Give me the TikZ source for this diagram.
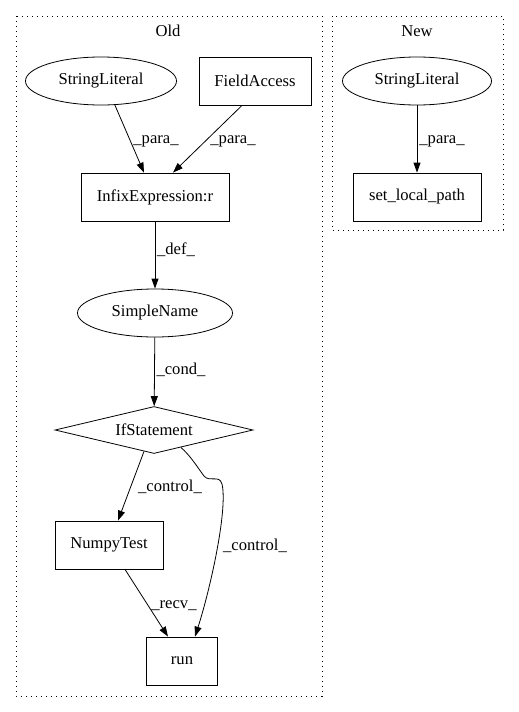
\documentclass[tikz,border=0pt]{standalone}
\usepackage{fontspec}
\setmainfont{Liberation Serif}
\usetikzlibrary{shapes.geometric,arrows.meta}
\begin{document}
\begin{tikzpicture}[x=1pt,y=-1pt,
  font=\fontsize{16.6}{19}\selectfont,
  every node/.style={inner sep=0pt},
  box/.style={draw,line width=0.8pt,rectangle},
  ell/.style={draw,line width=0.8pt,ellipse},
  cluster/.style={draw,line width=0.8pt,dash pattern=on 1.2pt off 3.8pt},
  lbl/.style={},
  arr/.style={draw,line width=0.8pt,-{Triangle[length=10pt,width=7pt]}}]
\useasboundingbox (0,0) rectangle (519,712);
% clusters
\draw[cluster] (16,16) rectangle (322,696);
\draw[cluster] (332,16) rectangle (503,230);
\node (toldt) at (168,31) {Old};
\node (tnew) at (417,31) {New};
% nodes
\node[ell,minimum width=151pt,minimum height=48pt] (sl1) at (101,81) {StringLiteral};
\node[box,minimum width=112pt,minimum height=48pt] (fa) at (255,81) {FieldAccess};
\node[box,minimum width=148pt,minimum height=48pt] (inf) at (155,197) {InfixExpression:r};
\node[ell,minimum width=155pt,minimum height=48pt] (sn) at (155,313) {SimpleName};
\node[draw,line width=0.8pt,diamond,aspect=4.2,minimum width=198pt,minimum height=47pt] (ifs) at (154,430) {IfStatement};
\node[box,minimum width=108pt,minimum height=48pt] (np) at (109,545) {NumpyTest};
\node[box,minimum width=71pt,minimum height=48pt] (run) at (182,661) {run};
\node[ell,minimum width=149pt,minimum height=48pt] (sl2) at (417,81) {StringLiteral};
\node[box,minimum width=128pt,minimum height=48pt] (slp) at (417,197) {set\_local\_path};
% edges
\draw[arr] (sl1.-60) -- (inf.north west -| 144,0);
\draw[arr] (fa.-118) -- (inf.north west -| 173,0);
\draw[arr] (inf) -- (sn);
\draw[arr] (sn) -- (ifs);
\draw[arr] (ifs.-115) -- (np.north -| 118,0);
\draw[arr] (ifs.-33) .. controls (190,455) and (198,468) .. (204,476)
  .. controls (210,483) and (219,474) .. (222,484)
  .. controls (228,510) and (210,590) .. (run.north -| 195,0);
\draw[arr] (np.south -| 125,0) -- (run.north -| 168,0);
\draw[arr] (sl2) -- (slp);
% labels
\node[lbl] (l1) at (156,141) {\_para\_};
\node[lbl] (l2) at (233,141) {\_para\_};
\node[lbl] (l3) at (176,250) {\_def\_};
\node[lbl] (l4) at (181,370) {\_cond\_};
\node[lbl] (l5) at (170,487) {\_control\_};
\node[lbl] (l6) at (255,546) {\_control\_};
\node[lbl] (l7) at (174,606) {\_recv\_};
\node[lbl] (l8) at (442,141) {\_para\_};
\end{tikzpicture}
\end{document}
